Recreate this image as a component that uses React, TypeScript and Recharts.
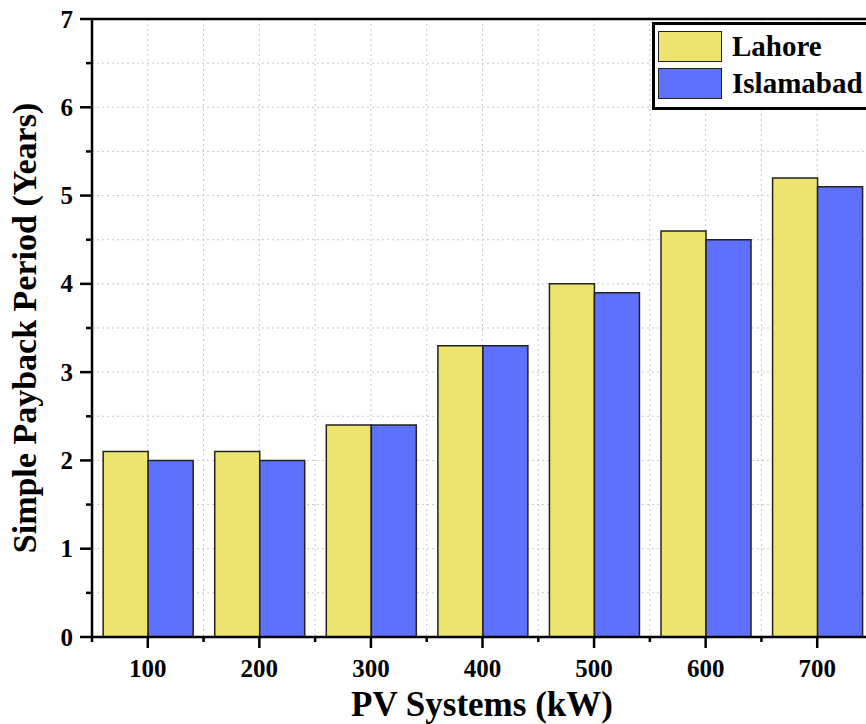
import React from 'react';
import { BarChart, Bar, XAxis, YAxis, CartesianGrid, ReferenceLine } from 'recharts';

const categories = ['100', '200', '300', '400', '500', '600', '700'];
const lahore = [2.1, 2.1, 2.4, 3.3, 4.0, 4.6, 5.2];
const islamabad = [2.0, 2.0, 2.4, 3.3, 3.9, 4.5, 5.1];
const yTicks = [0, 0.5, 1, 1.5, 2, 2.5, 3, 3.5, 4, 4.5, 5, 5.5, 6, 6.5, 7];
const seriesNames = ['Lahore', 'Islamabad'];
const seriesColors = ['#ECE46E', '#5E70FE'];

const data = categories.map((c, i) => ({ cat: c, Lahore: lahore[i], Islamabad: islamabad[i] }));

const FONT = "Liberation Serif, 'DejaVu Serif', serif";

const YTick = (props: any) => {
  const { x, y, payload } = props;
  const v = payload.value;
  const major = Number.isInteger(v);
  return (
    <g>
      <line x1={x - (major ? 12 : 6)} x2={x} y1={y} y2={y} stroke="#000" strokeWidth={2.5} />
      {major && (
        <text x={x - 19} y={y + 8.5} textAnchor="end" style={{ fontFamily: FONT, fontWeight: 700, fontSize: 25 }} fill="#000">
          {v}
        </text>
      )}
    </g>
  );
};

const XTick = (props: any) => {
  const { x, y, payload, index } = props;
  const half = payload && payload.offset ? payload.offset : 55.8;
  return (
    <g>
      <line x1={x} x2={x} y1={y} y2={y + 11} stroke="#000" strokeWidth={2.5} />
      <line x1={x - half} x2={x - half} y1={y} y2={y + 5} stroke="#000" strokeWidth={2.5} />
      {index === categories.length - 1 && (
        <line x1={x + half} x2={x + half} y1={y} y2={y + 5} stroke="#000" strokeWidth={2.5} />
      )}
      <text x={x} y={y + 40} textAnchor="middle" style={{ fontFamily: FONT, fontWeight: 700, fontSize: 25 }} fill="#000">
        {payload.value}
      </text>
    </g>
  );
};

export default function App() {
  return (
    <div style={{ position: 'absolute', left: 0, top: 0, width: 866, height: 724, overflow: 'hidden', background: '#fff' }}>
      <BarChart
        width={880}
        height={724}
        data={data}
        margin={{ top: 19, right: 7, bottom: 37, left: 0 }}
        barCategoryGap="10%"
        barGap={0}
      >
        <CartesianGrid
          stroke="#c8c8c8"
          strokeDasharray="2 3"
          strokeWidth={1}
          verticalCoordinatesGenerator={(p: any) => {
            const o = p.offset;
            const arr: number[] = [];
            for (let k = 1; k < categories.length * 2; k++) arr.push(o.left + (k * o.width) / (categories.length * 2));
            return arr;
          }}
        />
        <XAxis
          dataKey="cat"
          height={50}
          tick={<XTick />}
          tickLine={false}
          tickSize={0}
          tickMargin={0}
          axisLine={{ stroke: '#000', strokeWidth: 2.5 }}
          interval={0}
        />
        <YAxis
          width={92}
          domain={[0, 7]}
          ticks={yTicks}
          interval={0}
          tick={<YTick />}
          tickLine={false}
          tickSize={0}
          tickMargin={0}
          axisLine={{ stroke: '#000', strokeWidth: 2.5 }}
        />
        <ReferenceLine y={7} stroke="#000" strokeWidth={2.5} />
        {seriesNames.map((n, i) => (
          <Bar key={n} dataKey={n} fill={seriesColors[i]} stroke="#222" strokeWidth={1.5} isAnimationActive={false} />
        ))}
        <text
          x={36}
          y={328}
          transform="rotate(-90 36 328)"
          textAnchor="middle"
          style={{ fontFamily: FONT, fontWeight: 700, fontSize: 34 }}
          fill="#000"
        >
          Simple Payback Period (Years)
        </text>
        <text x={482} y={716} textAnchor="middle" style={{ fontFamily: FONT, fontWeight: 700, fontSize: 35 }} fill="#000">
          PV Systems (kW)
        </text>
      </BarChart>
      <div
        style={{
          position: 'absolute',
          left: 652,
          top: 22,
          width: 220,
          height: 82,
          border: '3px solid #000',
          background: '#fff',
          fontFamily: FONT,
          fontWeight: 700,
          fontSize: 29,
          color: '#000',
        }}
      >
        {seriesNames.map((n, i) => (
          <div key={n} style={{ position: 'absolute', left: 3, top: 5 + i * 37, height: 32, display: 'flex', alignItems: 'center' }}>
            <div style={{ width: 62, height: 29, background: seriesColors[i], border: '1.5px solid #222' }} />
            <span style={{ marginLeft: 10, lineHeight: '32px' }}>{n}</span>
          </div>
        ))}
      </div>
    </div>
  );
}
